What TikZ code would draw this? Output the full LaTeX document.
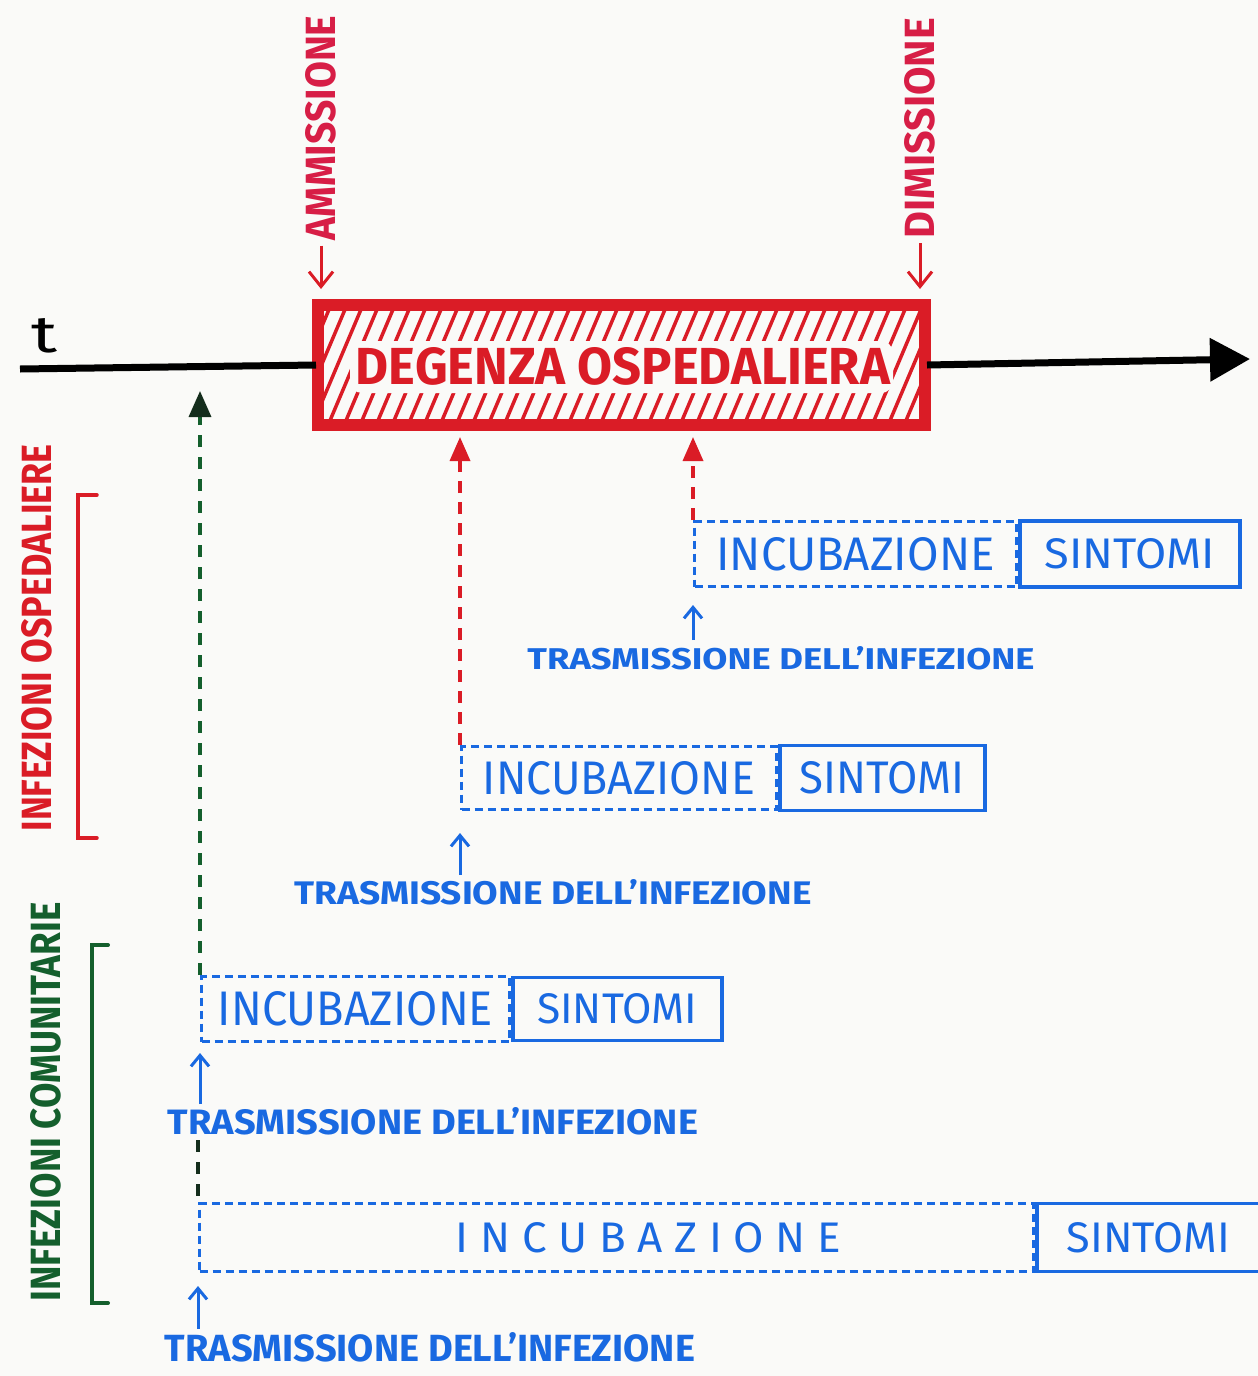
\documentclass[tikz,border=0pt]{standalone}
\usepackage{graphicx}
\usepackage{fontspec}
\setmainfont{Fira Sans}
\usetikzlibrary{arrows.meta}
\definecolor{hred}{RGB}{218,28,38}
\definecolor{hmag}{RGB}{215,30,70}
\definecolor{hblue}{RGB}{25,105,225}
\definecolor{hgreen}{RGB}{20,95,45}
\definecolor{hdark}{RGB}{20,45,28}
\definecolor{paper}{RGB}{250,250,248}
\newcommand{\hwtext}[3]{\resizebox{#1pt}{#2pt}{#3}}
\begin{document}
\begin{tikzpicture}[x=1pt,y=-1pt,
  txt/.style={inner sep=0pt},
  lab/.style={inner sep=0pt, text=hblue, font=\bfseries},
  incb/.style={draw=hblue, line width=3pt, dash pattern=on 8pt off 5pt, inner sep=0pt, text=hblue, anchor=north west},
  symb/.style={draw=hblue, line width=3.5pt, inner sep=0pt, text=hblue, anchor=west},
  uparr/.style={draw=hblue, line width=3pt, -{Straight Barb[length=11pt,width=18pt]}},
  redarr/.style={draw=hred, line width=3pt, -{Straight Barb[length=15pt,width=24pt]}},
  reddash/.style={draw=hred, line width=3.5pt, dash pattern=on 12pt off 9pt, -{Triangle[length=24pt,width=20pt]}},
  greendash/.style={draw=hgreen, line width=3.5pt, dash pattern=on 12pt off 10pt, -{Triangle[length=26pt,width=22pt,color=hdark]}},
  blackdash/.style={draw=hdark, line width=3.5pt, dash pattern=on 12pt off 10pt},
  bracket/.style={line width=3.5pt, line cap=round}
]
\useasboundingbox[fill=paper] (0,0) rectangle (1258,1376);

% hospital stay box
\node[draw=hred, line width=8pt, minimum width=603pt, minimum height=116pt, inner sep=0pt] (deg) at (621.5,365) {};
\begin{scope}
  \clip (deg.north west) rectangle (deg.south east);
  \foreach \x in {230,246,...,960} \draw[hred, line width=3.5pt] (\x,430) -- (\x+55,300);
\end{scope}
\fill[paper, rounded corners=12pt] (350,341) rectangle (893,393);
\draw[hred, line width=8pt] (deg.north west) rectangle (deg.south east);
\node[txt, text=hred, font=\bfseries] (degt) at (623,366) {\hwtext{534}{37}{DEGENZA OSPEDALIERA}};

% time axis
\coordinate (tstart) at (20,369);
\coordinate (tend) at (1250,359);
\draw[line width=7pt] (tstart) -- (deg.west);
\draw[line width=7pt, -{Triangle[length=40pt,width=42pt]}] (deg.east) -- (tend);
\node[txt] (tlab) at (45,336) {\hwtext{26}{34}{t}};

% admission / discharge
\node[txt, rotate=90, text=hmag, font=\bfseries] (amm) at (321,128) {\hwtext{225}{30}{AMMISSIONE}};
\node[txt, rotate=90, text=hmag, font=\bfseries] (dim) at (920,128) {\hwtext{220}{30}{DIMISSIONE}};
\draw[redarr, shorten <=5pt, shorten >=14pt] (amm.west) -- (amm.west |- deg.north);
\draw[redarr, shorten <=5pt, shorten >=14pt] (dim.west) -- (dim.west |- deg.north);

% side labels
\node[txt, rotate=90, text=hred, font=\bfseries] (inosp) at (37,638) {\hwtext{387}{30}{INFEZIONI OSPEDALIERE}};
\node[txt, rotate=90, text=hgreen, font=\bfseries] (incom) at (46,1102) {\hwtext{399}{30}{INFEZIONI COMUNITARIE}};
\draw[bracket, hred] (97,495) -- (78,495) -- (78,838) -- (97,838);
\draw[bracket, hgreen, line width=4pt] (108,945) -- (92,945) -- (92,1303) -- (108,1303);

% box 1
\node[incb, minimum width=322pt, minimum height=65pt] (inc1) at (693,520) {\hwtext{278}{33}{INCUBAZIONE}};
\node[symb, minimum width=220pt, minimum height=66pt] (sym1) at (inc1.east) {\hwtext{170}{30}{SINTOMI}};
\node[lab] (lab1) at (781,658) {\hwtext{507}{23}{TRASMISSIONE DELL'INFEZIONE}};
\draw[uparr, shorten <=6pt, shorten >=17pt] (lab1.north -| inc1.south west) -- (inc1.south west);

% box 2
\node[incb, minimum width=315pt, minimum height=63pt] (inc2) at (460,745) {\hwtext{272}{33}{INCUBAZIONE}};
\node[symb, minimum width=205pt, minimum height=65pt] (sym2) at (inc2.east) {\hwtext{165}{32}{SINTOMI}};
\node[lab] (lab2) at (553,892) {\hwtext{517}{25}{TRASMISSIONE DELL'INFEZIONE}};
\draw[uparr, shorten <=4pt, shorten >=22pt] (lab2.north -| inc2.south west) -- (inc2.south west);

% box 3
\node[incb, minimum width=308pt, minimum height=65pt] (inc3) at (200,975) {\hwtext{275}{34}{INCUBAZIONE}};
\node[symb, minimum width=209pt, minimum height=63pt] (sym3) at (inc3.east) {\hwtext{160}{30}{SINTOMI}};
\node[lab] (lab3) at (433,1121) {\hwtext{530}{27}{TRASMISSIONE DELL'INFEZIONE}};
\draw[uparr, shorten <=3pt, shorten >=10pt] (lab3.north -| inc3.south west) -- (inc3.south west);

% box 4
\node[incb, minimum width=834pt, minimum height=68pt] (inc4) at (198,1202) {\hspace*{64pt}\hwtext{385}{30}{I N C U B A Z I O N E}};
\node[symb, minimum width=223pt, minimum height=68pt] (sym4) at (inc4.east) {\hwtext{163}{30}{SINTOMI}};
\node[lab] (lab4) at (430,1347) {\hwtext{530}{29}{TRASMISSIONE DELL'INFEZIONE}};
\draw[uparr, shorten <=3pt, shorten >=13pt] (lab4.north -| inc4.south west) -- (inc4.south west);

% onset arrows
\draw[reddash, shorten >=10pt] (inc2.north west) -- (inc2.north west |- deg.south);
\draw[reddash, shorten >=10pt] (inc1.north west) -- (inc1.north west |- deg.south);
\draw[greendash, shorten >=22pt] (inc3.north west) -- (inc3.north west |- tstart);
\draw[blackdash, shorten <=5pt] (lab3.south -| inc4.north west) -- (inc4.north west);
\end{tikzpicture}
\end{document}
